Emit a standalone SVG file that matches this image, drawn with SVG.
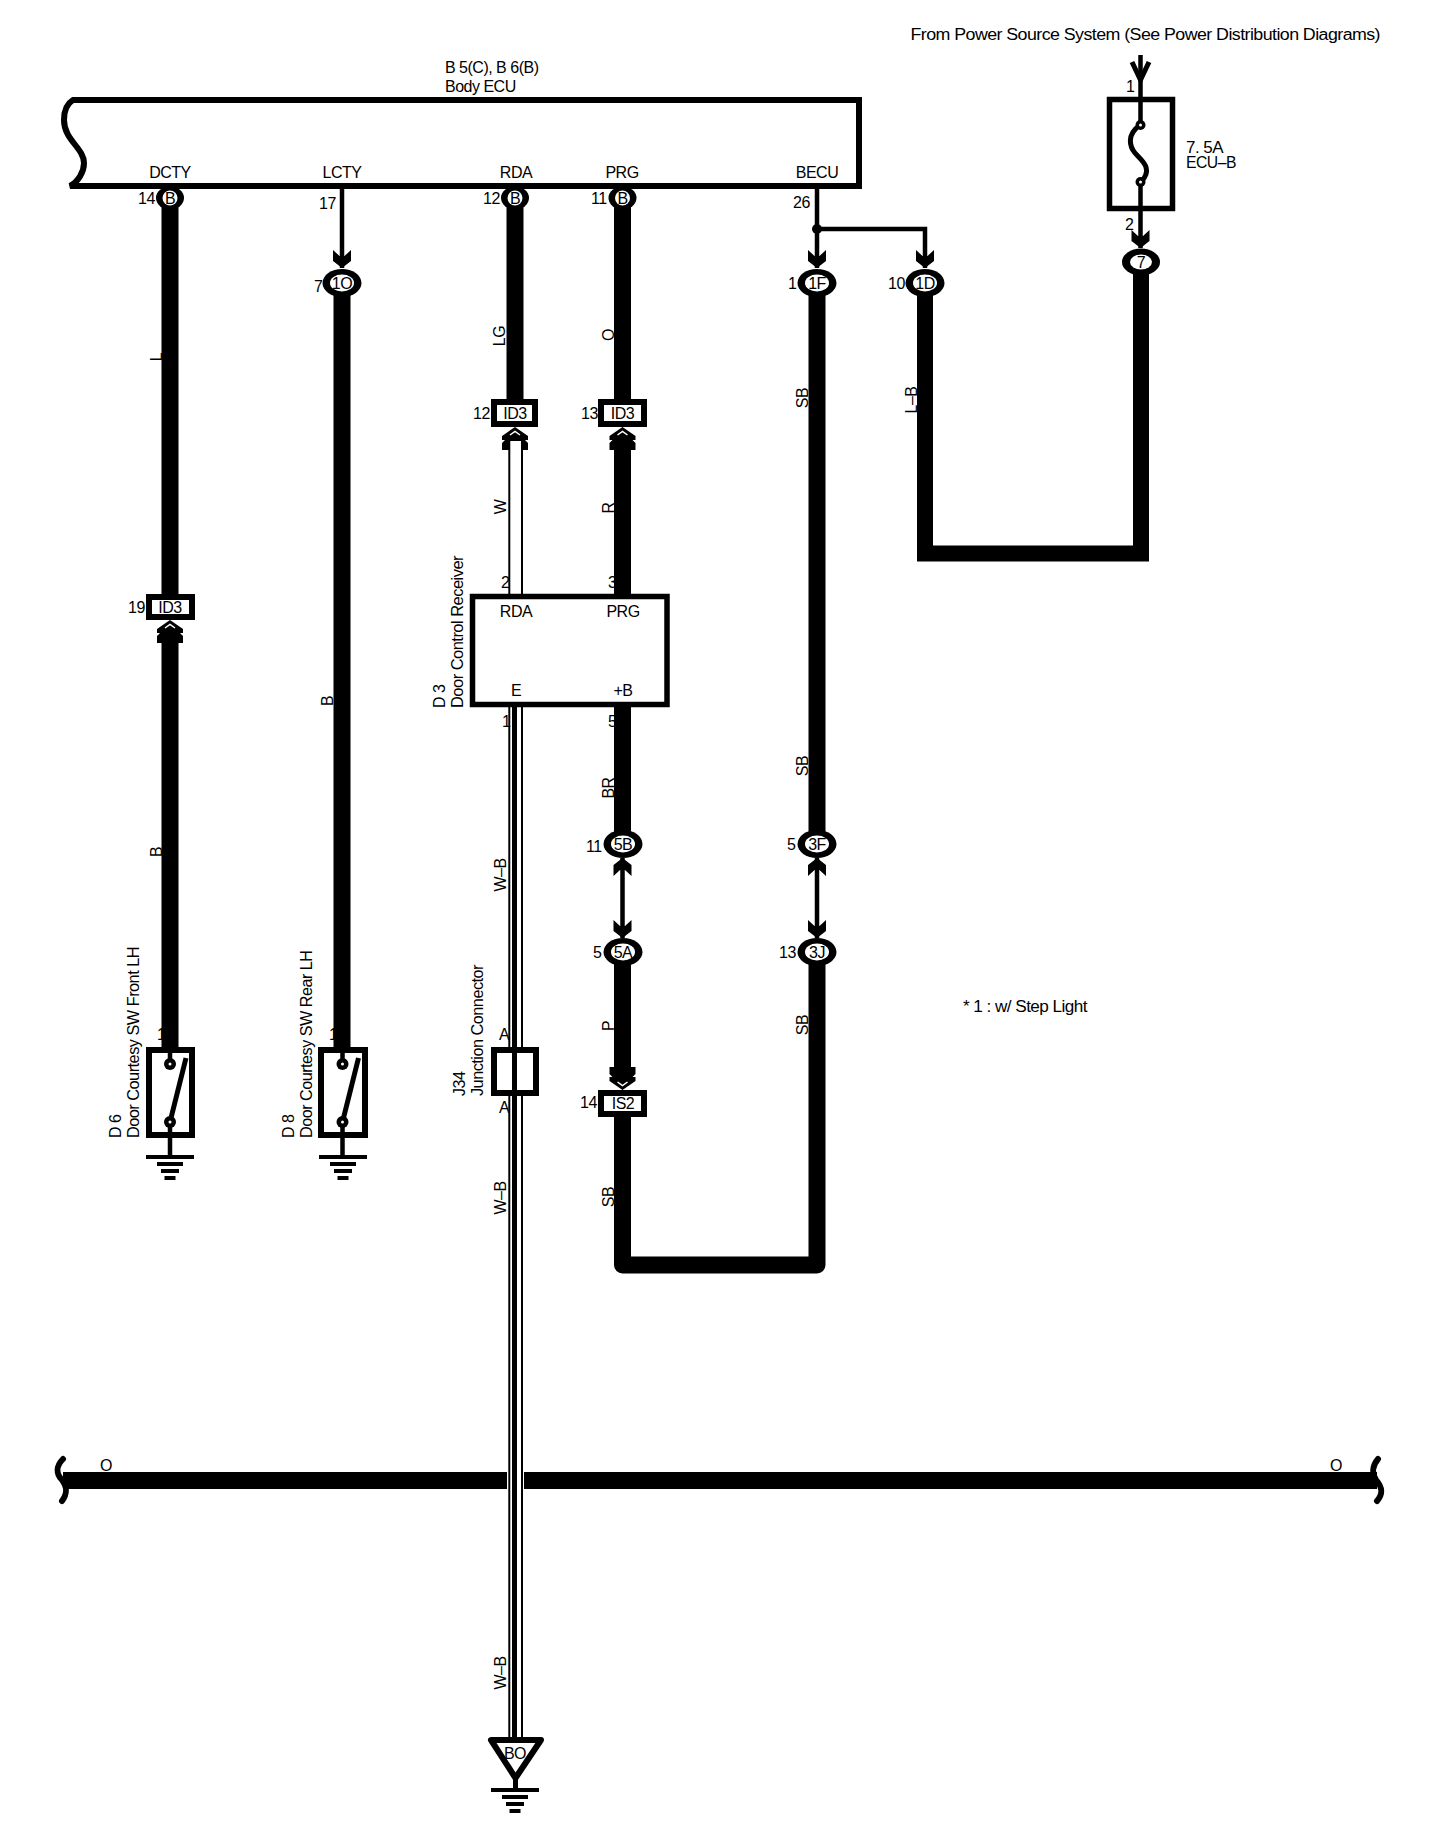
<svg xmlns="http://www.w3.org/2000/svg" width="1440" height="1834" viewBox="0 0 1440 1834">
<style>
text{font-family:"Liberation Sans",Arial,sans-serif;font-size:16px;letter-spacing:-0.5px;fill:#000}
.m{text-anchor:middle}
.thick{fill:none;stroke:#000;stroke-width:17}
.thin{fill:none;stroke:#000;stroke-width:4.500}
.box{fill:#fff;stroke:#000;stroke-width:6}
.line{fill:none;stroke:#000;stroke-width:5}
.w{fill:#fff}
</style>
<defs>
<path id="ad" d="M-9-18L-2.500-12H2.500L9-18V-7L0 0L-9-7Z"/>
<g id="cd"><path d="M0 1L13-8V-12H10L13-15V-22H-13V-15L-10-12H-13V-8Z"/><path d="M-5-7L0-3.500L5-7" fill="none" stroke="#fff" stroke-width="1.500"/></g>
<g id="gnd"><rect x="-24" y="-2" width="48" height="4"/><rect x="-13" y="5" width="26" height="4"/><rect x="-9" y="12" width="18" height="4"/><rect x="-5.500" y="19" width="11" height="4"/></g>
<g id="ringB"><ellipse rx="14" ry="11.500"/><ellipse class="w" rx="7.500" ry="7.500"/></g>
<g id="ringW"><ellipse rx="19.500" ry="14"/><ellipse class="w" rx="12" ry="8.500"/></g>
</defs>
<rect width="1440" height="1834" fill="#fff"/>
<g id="connectors">
<path class="thick" d="M170 186V594M170 631V1047"/>
<path class="thin" d="M342 186V268"/>
<use href="#ad" x="342" y="268"/>
<path class="thick" d="M342 283V1047"/>
<path class="thick" d="M515 186V400"/>
<path class="thick" d="M622.500 186V400M622.500 438V596M622.500 704V844M622.500 952V1079M622.500 1117V1265H817V952M817 283V844" stroke-linejoin="round"/>
<path class="thin" d="M817 186V268M817 229H925V268M622.500 858V938M817 858V938"/>
<circle cx="817" cy="229" r="5"/>
<use href="#ad" x="817" y="268"/><use href="#ad" x="925" y="268"/>
<use href="#ad" x="622.500" y="938"/><use href="#ad" x="817" y="938"/>
<use href="#ad" transform="translate(622.500 858) scale(1 -1)"/><use href="#ad" transform="translate(817 858) scale(1 -1)"/>
<path d="M925 283V553.500H1141V262" fill="none" stroke="#000" stroke-width="16"/>
<path class="thin" d="M1140.500 55V125M1140.500 182V248"/>
<path class="line" d="M1132 62L1140.500 80L1149 62"/>
<use href="#ad" x="1140.500" y="248"/>
<rect x="63" y="1472" width="444" height="17"/>
<rect x="524" y="1472" width="853" height="17"/>
<path d="M63 1459C56 1466 56 1474 62 1480C68 1488 67 1494 62 1501" fill="none" stroke="#000" stroke-width="6" stroke-linecap="round"/>
<path d="M1378 1459C1372 1466 1372 1474 1376 1480C1383 1488 1383 1494 1377 1501" fill="none" stroke="#000" stroke-width="6" stroke-linecap="round"/>
<use href="#cd" transform="translate(515 428) scale(1 -1)"/>
<use href="#cd" transform="translate(622.500 428) scale(1 -1)"/>
<use href="#cd" transform="translate(170 621) scale(1 -1)"/>
<use href="#cd" x="622.500" y="1089"/>
<rect x="508.300" y="446" width="14.700" height="150"/><rect x="510.300" y="441" width="10.700" height="155" fill="#fff"/>
<rect x="508.300" y="704" width="14.700" height="1034"/><rect x="510.300" y="704" width="10.700" height="1034" fill="#fff"/><rect x="512" y="704" width="5" height="1034"/>
</g>
<g id="body-ecu">
<path d="M73 100H859V186H70C78 182 84 172 84 163C84 148 64 140 64 120C64 110 68 103 73 100Z" fill="none" stroke="#000" stroke-width="6"/>
<text x="445" y="73">B 5(C), B 6(B)</text><text x="445" y="92">Body ECU</text>
<text class="m" x="170" y="178">DCTY</text><text class="m" x="342" y="178">LCTY</text><text class="m" x="516" y="178">RDA</text><text class="m" x="622" y="178">PRG</text><text class="m" x="817" y="178">BECU</text>
<text x="138" y="204">14</text><text x="319" y="209">17</text><text x="483" y="204">12</text><text x="591" y="204">11</text><text x="793" y="208">26</text>
</g>
<g id="c-dcty"><use href="#ringB" x="170" y="198"/><text class="m" x="170" y="204">B</text></g>
<g id="c-rda"><use href="#ringB" x="515" y="198"/><text class="m" x="515" y="204">B</text></g>
<g id="c-prg"><use href="#ringB" x="622.500" y="198"/><text class="m" x="622.500" y="204">B</text></g>
<g id="c-1o"><use href="#ringW" x="342" y="283"/><text class="m" x="342" y="289">1O</text><text x="314" y="292">7</text></g>
<g id="c-1f"><use href="#ringW" x="817" y="283"/><text class="m" x="817" y="289">1F</text><text x="788" y="289">1</text></g>
<g id="c-1d"><use href="#ringW" x="925" y="283"/><text class="m" x="925" y="289">1D</text><text x="888" y="289">10</text></g>
<g id="c-7"><ellipse cx="1141" cy="262" rx="19" ry="13.500"/><ellipse class="w" cx="1141" cy="262" rx="11" ry="7.500"/><text class="m" x="1141" y="268">7</text></g>
<g id="c-5b"><use href="#ringW" x="623" y="844"/><text class="m" x="623" y="850">5B</text><text x="586" y="852">11</text></g>
<g id="c-3f"><use href="#ringW" x="817" y="844"/><text class="m" x="817" y="850">3F</text><text x="787" y="850">5</text></g>
<g id="c-5a"><use href="#ringW" x="623" y="952"/><text class="m" x="623" y="958">5A</text><text x="593" y="958">5</text></g>
<g id="c-3j"><use href="#ringW" x="817" y="952"/><text class="m" x="817" y="958">3J</text><text x="779" y="958">13</text></g>
<g id="id3-12"><rect class="box" x="494" y="402" width="41" height="22"/><text class="m" x="515" y="419">ID3</text><text x="473" y="419">12</text></g>
<g id="id3-13"><rect class="box" x="601" y="402" width="43" height="22"/><text class="m" x="622.500" y="419">ID3</text><text x="581" y="419">13</text></g>
<g id="id3-19"><rect class="box" x="149" y="597" width="43" height="20"/><text class="m" x="170" y="613">ID3</text><text x="128" y="613">19</text></g>
<g id="is2"><rect class="box" x="601" y="1093" width="43" height="21"/><text class="m" x="623" y="1109">IS2</text><text x="580" y="1108">14</text></g>
<g id="receiver"><rect fill="#fff" stroke="#000" stroke-width="5.500" x="472.500" y="596.500" width="194.500" height="108"/>
<text class="m" x="516" y="617">RDA</text><text class="m" x="623" y="617">PRG</text><text class="m" x="516" y="696">E</text><text class="m" x="623" y="696">+B</text>
<text x="501" y="588">2</text><text x="608" y="588">3</text><text x="502" y="727">1</text><text x="608" y="727">5</text>
<text transform="translate(445 708) rotate(-90)">D 3</text><text transform="translate(463 708) rotate(-90)" textLength="152" lengthAdjust="spacingAndGlyphs">Door Control Receiver</text></g>
<g id="junction"><rect class="box" x="494" y="1050" width="42" height="43"/><rect x="512" y="1047" width="5" height="49"/>
<text class="m" x="504" y="1040">A</text><text class="m" x="504" y="1113">A</text>
<text transform="translate(465 1096) rotate(-90)">J34</text><text transform="translate(483 1096) rotate(-90)" textLength="131" lengthAdjust="spacingAndGlyphs">Junction Connector</text></g>
<g id="sw-front"><rect class="box" x="149" y="1050" width="43" height="85"/>
<path class="thin" d="M170 1047V1064M170 1122V1157"/><path class="line" d="M170 1122L186 1058"/><circle cx="170" cy="1064" r="6"/><circle cx="170" cy="1122" r="6"/><circle cx="170" cy="1064" r="1.500" fill="#fff"/><circle cx="170" cy="1122" r="1.500" fill="#fff"/>
<use href="#gnd" x="170" y="1157"/>
<text x="157" y="1040">1</text>
<text transform="translate(121 1138) rotate(-90)">D 6</text><text transform="translate(139 1138) rotate(-90)" textLength="191" lengthAdjust="spacingAndGlyphs">Door Courtesy SW Front LH</text></g>
<g id="sw-rear"><rect class="box" x="321" y="1050" width="44" height="85"/>
<path class="thin" d="M342.500 1047V1064M342.500 1122V1157"/><path class="line" d="M342.500 1122L358.500 1058"/><circle cx="342.500" cy="1064" r="6"/><circle cx="342.500" cy="1122" r="6"/><circle cx="342.500" cy="1064" r="1.500" fill="#fff"/><circle cx="342.500" cy="1122" r="1.500" fill="#fff"/>
<use href="#gnd" x="343" y="1157"/>
<text x="329" y="1040">1</text>
<text transform="translate(294 1138) rotate(-90)">D 8</text><text transform="translate(312 1138) rotate(-90)" textLength="187.500" lengthAdjust="spacingAndGlyphs">Door Courtesy SW Rear LH</text></g>
<g id="fuse"><rect fill="#fff" stroke="#000" stroke-width="5.500" x="1109.500" y="99.500" width="63" height="109"/>
<path class="thin" d="M1140.500 97V125M1140.500 182V211"/>
<path class="line" d="M1140 125C1126 135 1130 147 1135 153C1141 160 1154 168 1141 182"/>
<circle cx="1140.500" cy="125" r="5"/><circle cx="1140.500" cy="182" r="5"/><circle cx="1140.500" cy="125" r="1.500" fill="#fff"/><circle cx="1140.500" cy="182" r="1.500" fill="#fff"/>
<text x="1126" y="92">1</text><text x="1125" y="230">2</text>
<text x="1186" y="153" textLength="37" lengthAdjust="spacingAndGlyphs">7. 5A</text><text x="1186" y="168" textLength="50" lengthAdjust="spacingAndGlyphs">ECU–B</text>
<text x="910.500" y="40" textLength="469.500" lengthAdjust="spacingAndGlyphs">From Power Source System (See Power Distribution Diagrams)</text></g>
<g id="ground-bo"><path class="box" d="M491 1740H541L515.500 1778Z" stroke-linejoin="round"/><rect x="513" y="1778" width="5" height="12"/><use href="#gnd" x="515" y="1790"/><text class="m" x="515" y="1759">BO</text></g>
<g id="wire-labels">
<text transform="translate(162 357) rotate(-90)" class="m">L</text>
<text transform="translate(162 852) rotate(-90)" class="m">B</text>
<text transform="translate(333 701) rotate(-90)" class="m">B</text>
<text transform="translate(505 336) rotate(-90)" class="m">LG</text>
<text transform="translate(614 335) rotate(-90)" class="m">O</text>
<text transform="translate(506 507) rotate(-90)" class="m">W</text>
<text transform="translate(614 508) rotate(-90)" class="m">R</text>
<text transform="translate(614 788) rotate(-90)" class="m">BR</text>
<text transform="translate(614 1026) rotate(-90)" class="m">P</text>
<text transform="translate(614 1197) rotate(-90)" class="m">SB</text>
<text transform="translate(808 398) rotate(-90)" class="m">SB</text>
<text transform="translate(808 766) rotate(-90)" class="m">SB</text>
<text transform="translate(808 1025) rotate(-90)" class="m">SB</text>
<text transform="translate(916.500 400) rotate(-90)" class="m">L–B</text>
<text transform="translate(506 875) rotate(-90)" class="m">W–B</text>
<text transform="translate(506 1198) rotate(-90)" class="m">W–B</text>
<text transform="translate(506 1673) rotate(-90)" class="m">W–B</text>
<text class="m" x="106" y="1471">O</text><text class="m" x="1336" y="1471">O</text>
</g>
<text x="963" y="1012" textLength="124" lengthAdjust="spacingAndGlyphs">* 1 : w/ Step Light</text>
</svg>
